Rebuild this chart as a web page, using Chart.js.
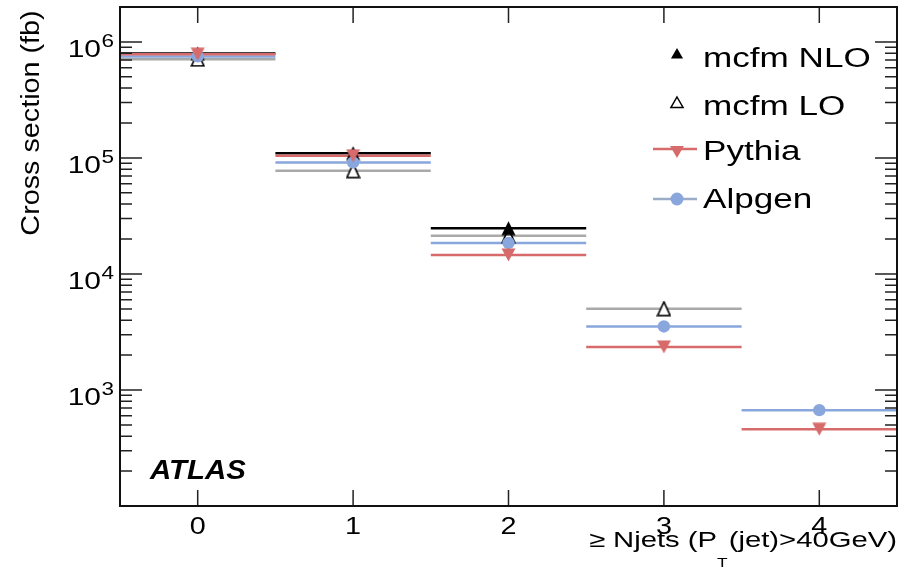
<!DOCTYPE html>
<html lang="en">
<head>
<meta charset="utf-8">
<title>Cross section vs Njets</title>
<script src="https://cdn.jsdelivr.net/npm/chart.js@4.4.1/dist/chart.umd.min.js"></script>
<style>
    html, body { margin: 0; padding: 0; background: #fff; }
    canvas { display: block; }
</style>
</head>
<body>
<canvas id="grafico-njets" width="904" height="574"></canvas>
<script>
// values, cross section in fb for each >= Njets bin
var bins = [0, 1, 2, 3, 4];
var binLabels = ['0', '1', '2', '3', '4'];
var mcfmNLO = [7.96e5, 1.10e5, 2.48e4, null, null];
var mcfmLO = [7.1e5, 7.77e4, 2.14e4, 5.02e3, null];
var pythia = [7.84e5, 1.045e5, 1.46e4, 2.35e3, 459];
var alpgen = [7.5e5, 9.15e4, 1.85e4, 3.53e3, 670];
var yDecades = [1e3, 1e4, 1e5, 1e6];
var yExponents = ['3', '4', '5', '6'];
var seriesNames = ['mcfm NLO', 'mcfm LO', 'Pythia', 'Alpgen'];

(function () {
    'use strict';

    var FONT = '"Liberation Sans", Arial, Helvetica, sans-serif';
    var RED = '#d76b6b';
    var BLUE = '#89a7dc';
    var GREY = '#a9a9a9';

    // each bin gets a horizontal bar from x-0.5 to x+0.5, null breaks the line
    function segments(values) {
        var pts = [];
        values.forEach(function (v, i) {
            if (v === null) return;
            pts.push({ x: bins[i] - 0.5, y: v });
            pts.push({ x: bins[i] + 0.5, y: v });
            pts.push({ x: bins[i] + 0.5, y: null });
        });
        return pts;
    }

    function markers(values) {
        return values
            .map(function (v, i) { return { x: bins[i], y: v }; })
            .filter(function (p) { return p.y !== null; });
    }

    // ROOT-like markers: bounding box centred on the value
    function sprite(w, h, draw) {
        var c = document.createElement('canvas');
        c.width = w;
        c.height = h;
        draw(c.getContext('2d'), w, h);
        return c;
    }

    function text(ctx, str, x, y, size, opts) {
        opts = opts || {};
        ctx.save();
        ctx.font = (opts.style || '') + ' ' + size + 'px ' + FONT;
        ctx.fillStyle = opts.color || '#000';
        ctx.textAlign = opts.align || 'left';
        ctx.textBaseline = 'alphabetic';
        ctx.translate(x, y);
        if (opts.rotate) ctx.rotate(opts.rotate);
        ctx.scale(opts.sx || 1, 1);
        ctx.fillText(str, 0, 0);
        ctx.restore();
    }

    function measure(ctx, str, size, sx) {
        ctx.save();
        ctx.font = size + 'px ' + FONT;
        var w = ctx.measureText(str).width * (sx || 1);
        ctx.restore();
        return w;
    }

    function triangle(ctx, x, y, r, down, fill, stroke) {
        var s = down ? -1 : 1;
        ctx.beginPath();
        ctx.moveTo(x, y - s * r);
        ctx.lineTo(x + 0.866 * r, y + s * r / 2);
        ctx.lineTo(x - 0.866 * r, y + s * r / 2);
        ctx.closePath();
        if (fill) { ctx.fillStyle = fill; ctx.fill(); }
        if (stroke) { ctx.strokeStyle = stroke; ctx.lineWidth = 1.5; ctx.stroke(); }
    }

    var atlasDecor = {
        id: 'atlasDecor',
        afterDraw: function (chart) {
            var ctx = chart.ctx;
            var area = chart.chartArea;
            var xs = chart.scales.x;
            var ys = chart.scales.y;

            ctx.save();
            ctx.strokeStyle = '#222';
            ctx.lineWidth = 1.5;
            ctx.beginPath();
            [100].concat(yDecades).forEach(function (d) {
                for (var k = 1; k <= 9; k++) {
                    var v = k * d;
                    if (v < ys.min || v > ys.max) continue;
                    var py = ys.getPixelForValue(v);
                    var len = k === 1 ? 22 : 12;
                    ctx.moveTo(area.left, py); ctx.lineTo(area.left + len, py);
                    ctx.moveTo(area.right, py); ctx.lineTo(area.right - len, py);
                }
            });
            bins.forEach(function (b) {
                var px = xs.getPixelForValue(b);
                ctx.moveTo(px, area.bottom); ctx.lineTo(px, area.bottom - 16);
                ctx.moveTo(px, area.top); ctx.lineTo(px, area.top + 16);
            });
            ctx.stroke();

            ctx.strokeStyle = '#111';
            ctx.lineWidth = 2;
            ctx.strokeRect(area.left, area.top, area.right - area.left, area.bottom - area.top);
            ctx.restore();

            // tick labels
            bins.forEach(function (b, i) {
                text(ctx, binLabels[i], xs.getPixelForValue(b), area.bottom + 28, 24, { align: 'center', sx: 1.2 });
            });
            yDecades.forEach(function (d, i) {
                var py = ys.getPixelForValue(d);
                text(ctx, '10', area.left - 19, py + 15, 24, { align: 'right', sx: 1.25 });
                text(ctx, yExponents[i], area.left - 18.5, py + 5.5, 18, { sx: 1.25 });
            });

            // axis titles
            text(ctx, 'Cross section (fb)', 39, 123, 25, { align: 'center', rotate: -Math.PI / 2, sx: 1.15 });
            var sx = 1.33;
            var partA = '\u2265 Njets (P';
            var partB = 'T';
            var partC = '(jet)>40GeV)';
            var wC = measure(ctx, partC, 22, sx);
            var wB = measure(ctx, partB, 13, sx);
            var xC = area.right - wC;
            var xB = xC - wB - 1;
            text(ctx, partC, xC, 547, 22, { sx: sx });
            text(ctx, partB, xB, 567, 13, { sx: sx });
            text(ctx, partA, xB, 547, 22, { align: 'right', sx: sx });

            // ATLAS label
            text(ctx, 'ATLAS', 150, 479, 28, { style: 'italic bold', sx: 1.05 });

            // legend
            var lx = 677;
            var tx = 703;
            ctx.save();
            triangle(ctx, lx, 55, 7, false, '#000', null);
            triangle(ctx, lx, 104, 7, false, '#fff', '#000');
            ctx.lineWidth = 2.5;
            ctx.strokeStyle = RED;
            ctx.beginPath(); ctx.moveTo(653, 149); ctx.lineTo(697, 149); ctx.stroke();
            triangle(ctx, lx, 150, 8, true, RED, null);
            ctx.strokeStyle = '#9badc6';
            ctx.beginPath(); ctx.moveTo(653, 199); ctx.lineTo(697, 199); ctx.stroke();
            ctx.fillStyle = BLUE;
            ctx.beginPath(); ctx.arc(lx, 199, 6.5, 0, Math.PI * 2); ctx.fill();
            ctx.restore();
            [67, 115, 160, 208].forEach(function (by, i) {
                text(ctx, seriesNames[i], tx, by, 27, { sx: 1.3 });
            });
        }
    };

    function init() {
        if (typeof Chart === 'undefined') {
            console.warn('Chart.js not loaded.');
            return;
        }
        var canvas = document.getElementById('grafico-njets');

        var triUp = sprite(15, 15, function (g, w, h) {
            g.beginPath();
            g.moveTo(w / 2, 0.5); g.lineTo(w - 0.5, h - 0.5); g.lineTo(0.5, h - 0.5);
            g.closePath();
            g.fillStyle = '#000';
            g.fill();
        });
        var triOpen = sprite(15, 16, function (g, w, h) {
            g.beginPath();
            g.moveTo(w / 2, 1.2); g.lineTo(w - 1.2, h - 1.2); g.lineTo(1.2, h - 1.2);
            g.closePath();
            g.fillStyle = '#fff';
            g.fill();
            g.lineWidth = 1.6;
            g.strokeStyle = '#000';
            g.stroke();
        });
        var triDown = sprite(15, 14, function (g, w, h) {
            g.beginPath();
            g.moveTo(0.5, 0.5); g.lineTo(w - 0.5, 0.5); g.lineTo(w / 2, h - 0.5);
            g.closePath();
            g.fillStyle = RED;
            g.fill();
        });

        var lineBase = { type: 'line', pointRadius: 0, borderWidth: 2.5, fill: false, tension: 0, spanGaps: false };
        var markBase = { type: 'line', showLine: false, pointBorderWidth: 0, pointRadius: 7 };

        new Chart(canvas, {
            type: 'line',
            data: {
                datasets: [
                    Object.assign({}, markBase, {
                        label: 'Pythia', data: markers(pythia), order: 1, pointStyle: triDown
                    }),
                    Object.assign({}, markBase, {
                        label: 'Alpgen', data: markers(alpgen), order: 2,
                        pointStyle: 'circle', pointRadius: 6.2,
                        pointBackgroundColor: BLUE, pointBorderColor: BLUE
                    }),
                    Object.assign({}, markBase, {
                        label: 'mcfm NLO', data: markers(mcfmNLO), order: 3, pointStyle: triUp
                    }),
                    Object.assign({}, markBase, {
                        label: 'mcfm LO', data: markers(mcfmLO), order: 4, pointStyle: triOpen
                    }),
                    Object.assign({}, lineBase, { label: 'Pythia bins', data: segments(pythia), borderColor: RED, order: 5 }),
                    Object.assign({}, lineBase, { label: 'Alpgen bins', data: segments(alpgen), borderColor: BLUE, order: 6 }),
                    Object.assign({}, lineBase, { label: 'NLO bins', data: segments(mcfmNLO), borderColor: '#000', order: 7 }),
                    Object.assign({}, lineBase, { label: 'LO bins', data: segments(mcfmLO), borderColor: GREY, order: 8 })
                ]
            },
            options: {
                responsive: false,
                animation: false,
                events: [],
                layout: { padding: { left: 120, right: 7, top: 6, bottom: 68 } },
                plugins: {
                    legend: { display: false },
                    tooltip: { enabled: false }
                },
                scales: {
                    x: { type: 'linear', min: -0.5, max: 4.5, display: false },
                    y: { type: 'logarithmic', min: 100, max: 2e6, display: false }
                }
            },
            plugins: [atlasDecor]
        });
    }

    if (document.readyState === 'loading') {
        document.addEventListener('DOMContentLoaded', init);
    } else {
        init();
    }
})();
</script>
</body>
</html>
